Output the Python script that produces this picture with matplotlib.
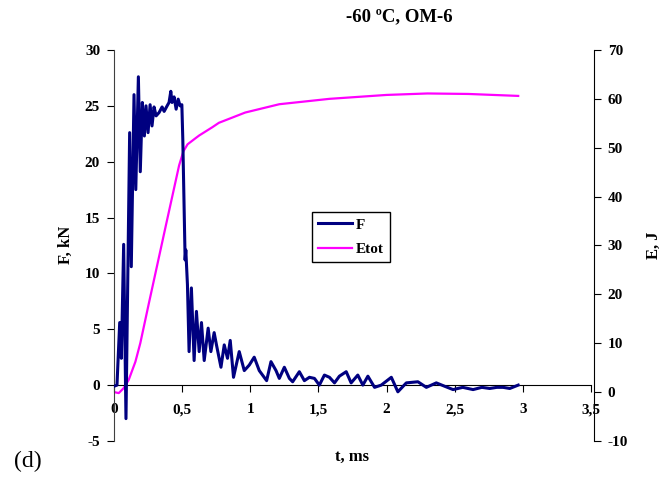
import matplotlib
matplotlib.use("Agg")
import matplotlib.pyplot as plt

plt.rcParams["font.family"] = ["Liberation Serif", "DejaVu Serif"]
plt.rcParams["font.weight"] = "bold"
plt.rcParams["axes.unicode_minus"] = False

# Сила F (кН) от времени t (мс)
t_F = [0.0, 0.022, 0.042, 0.054, 0.071, 0.088, 0.115, 0.127, 0.147, 0.160,
       0.179, 0.193, 0.208, 0.223, 0.235, 0.250, 0.265, 0.279, 0.294, 0.309,
       0.331, 0.353, 0.368, 0.390, 0.404, 0.417, 0.426, 0.441, 0.456, 0.471,
       0.485, 0.498, 0.505, 0.522, 0.527, 0.539, 0.551, 0.568, 0.588, 0.605,
       0.625, 0.642, 0.662, 0.691, 0.711, 0.735, 0.752, 0.785, 0.809, 0.833,
       0.853, 0.877, 0.919, 0.956, 0.993, 1.029, 1.066, 1.120, 1.152, 1.189,
       1.213, 1.250, 1.287, 1.311, 1.360, 1.397, 1.434, 1.471, 1.507, 1.544,
       1.581, 1.618, 1.654, 1.704, 1.740, 1.789, 1.826, 1.863, 1.912, 1.961,
       2.035, 2.083, 2.145, 2.230, 2.292, 2.365, 2.426, 2.488, 2.559, 2.635,
       2.699, 2.757, 2.809, 2.855, 2.904, 2.966]
F = [-0.1, 0.0, 5.6, 2.4, 12.6, -3.0, 22.6, 10.6, 26.0, 17.5,
     27.6, 19.1, 25.3, 22.3, 25.0, 22.6, 25.1, 23.2, 24.9, 24.1,
     24.4, 24.9, 24.5, 25.0, 25.3, 26.3, 25.3, 25.8, 24.7, 25.6,
     25.0, 25.1, 22.0, 11.2, 12.1, 9.0, 3.0, 8.7, 2.2, 6.6,
     3.0, 5.6, 2.2, 5.1, 3.0, 4.7, 3.6, 1.6, 3.6, 2.4,
     4.0, 0.7, 3.0, 1.3, 1.8, 2.5, 1.3, 0.4, 2.1, 1.3,
     0.6, 1.6, 0.6, 0.3, 1.2, 0.4, 0.7, 0.6, 0.0, 0.9,
     0.7, 0.2, 0.8, 1.2, 0.2, 0.9, 0.0, 0.8, -0.2, 0.0,
     0.7, -0.6, 0.2, 0.3, -0.2, 0.2, -0.1, -0.4, -0.2, -0.4,
     -0.2, -0.3, -0.2, -0.2, -0.3, 0.0]

# Полная энергия Etot (Дж)
t_E = [0.0, 0.035, 0.071, 0.108, 0.157, 0.193, 0.230, 0.257, 0.38, 0.478,
       0.51, 0.54, 0.601, 0.625, 0.722, 0.77, 0.963, 1.213, 1.581, 2.0,
       2.3, 2.6, 2.966]
E = [0.0, -0.2, 0.8, 2.5, 6.2, 10.0, 14.8, 18.3, 34.0, 46.4,
     49.3, 50.7, 52.0, 52.5, 54.2, 55.1, 57.2, 58.9, 60.0, 60.8,
     61.1, 61.0, 60.6]

x_ticks = [0, 0.5, 1, 1.5, 2, 2.5, 3, 3.5]
x_labels = ["0", "0,5", "1", "1,5", "2", "2,5", "3", "3,5"]

fig = plt.figure(figsize=(6.65, 4.8), dpi=100)
ax = fig.add_axes([0.1714, 0.0813, 0.7173, 0.8146])
ax2 = ax.twinx()

lF, = ax.plot(t_F, F, color="#000080", lw=2.2, label="F", zorder=3)
lE, = ax2.plot(t_E, E, color="#FF00FF", lw=1.6, label="Etot")
ax.set_zorder(2)
ax.patch.set_visible(False)

ax.set_xlim(0, 3.5)
ax.set_ylim(-5, 30)
ax2.set_ylim(-10, 70)

ax.spines["top"].set_visible(False)
ax.spines["right"].set_visible(False)
ax.spines["bottom"].set_position(("data", 0))
ax.spines["left"].set_color("#404040")
for s in ["top", "left", "bottom"]:
    ax2.spines[s].set_visible(False)
ax2.spines["right"].set_position(("axes", 1.006))

ax.set_xticks(x_ticks)
ax.set_xticklabels(x_labels)
ax.set_yticks(range(-5, 31, 5))
ax2.set_yticks(range(-10, 71, 10))
ax.tick_params(axis="x", direction="out", length=5, pad=8, labelsize=11)
ax.tick_params(axis="y", direction="out", length=5, pad=5, labelsize=11)
ax2.tick_params(axis="y", direction="out", length=5, pad=5, labelsize=11)

fig.text(66 / 665, 1 - 245 / 480, "F, kN", fontsize=12, fontweight="bold",
         rotation=90, ha="center", va="center")
fig.text(654 / 665, 1 - 245 / 480, "E, J", fontsize=12, fontweight="bold",
         rotation=90, ha="center", va="center")
fig.text(352 / 665, 1 - 457 / 480, "t, ms", fontsize=12, fontweight="bold",
         ha="center", va="center")
fig.text(399 / 665, 1 - 17 / 480, "-60 ºC, OM-6", fontsize=13.5,
         fontweight="bold", ha="center", va="center")
fig.text(28 / 665, 1 - 461 / 480, "(d)", fontsize=17, fontweight="normal",
         ha="center", va="center")

leg = fig.legend(handles=[lF, lE], loc="upper left",
                 bbox_to_anchor=(312 / 665, 1 - 212 / 480), fontsize=11,
                 handlelength=2.2, handletextpad=0.25, labelspacing=0.7,
                 borderpad=0.4, fancybox=False, framealpha=1,
                 edgecolor="black", borderaxespad=0)
leg.get_frame().set_linewidth(1.0)

fig.savefig("out.png", dpi=100)
